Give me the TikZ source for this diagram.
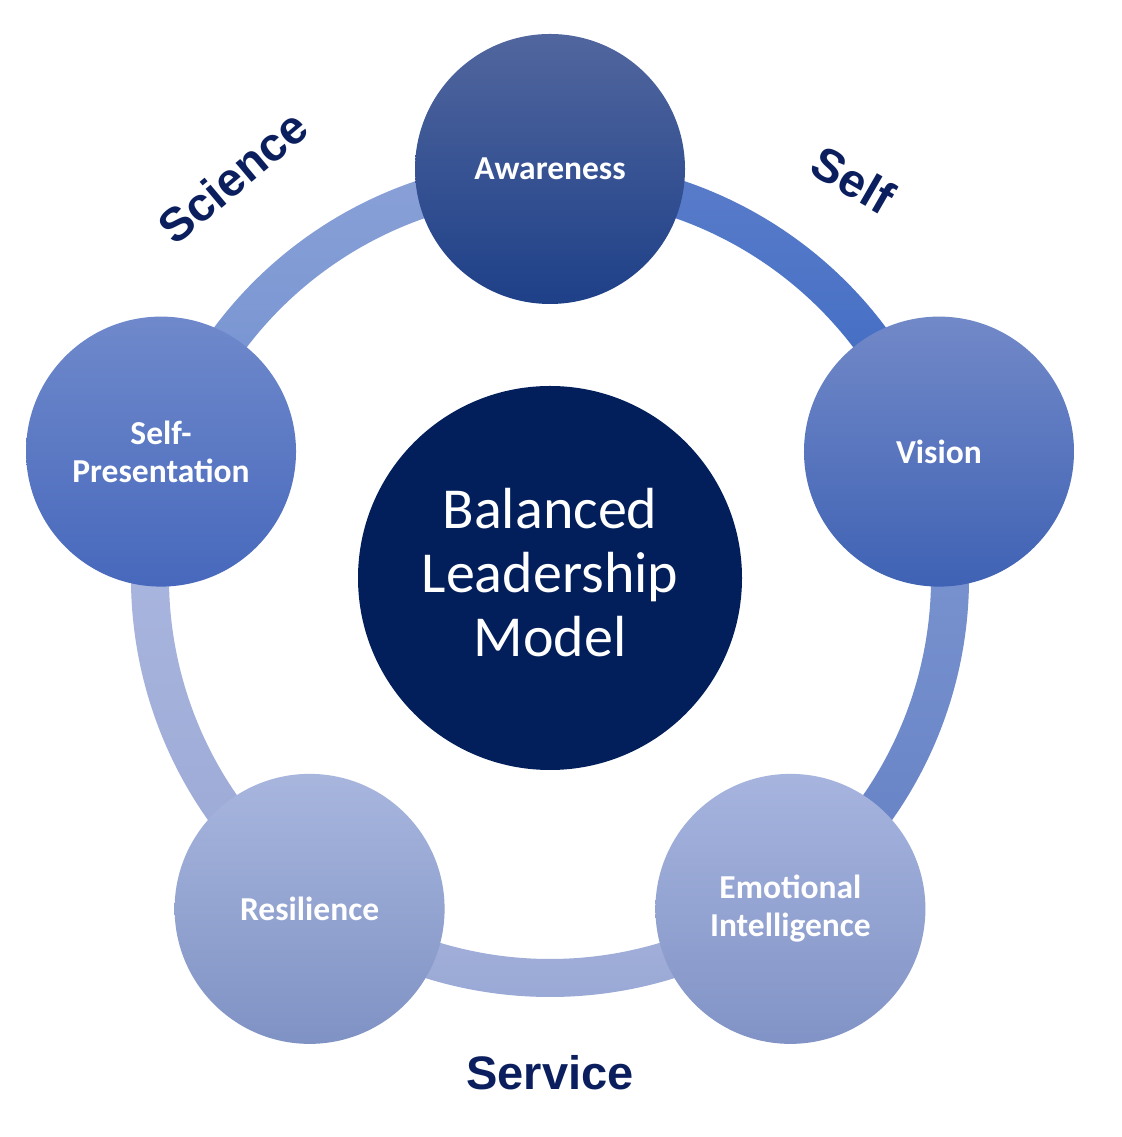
\documentclass[tikz,border=0pt]{standalone}
\usepackage{fontspec}
\setmainfont{Carlito}
\newfontfamily\labfont{Liberation Sans}
\usetikzlibrary{calc}
\definecolor{navy}{HTML}{021F5B}
\definecolor{labcol}{HTML}{0B1F5E}
\newcommand\ringseg[4]{\shade[top color=#3,bottom color=#4] ($(C)+(#1:419pt)$) arc[start angle=#1,end angle=#2,radius=419pt] -- ($(C)+(#2:381pt)$) arc[start angle=#2,end angle=#1,radius=381pt] -- cycle;}
\tikzset{
  circ/.style={circle, minimum size=270pt, inner sep=0pt, text=white, align=center,
    font=\bfseries\fontsize{33.5}{38}\selectfont},
  side/.style={text=labcol, font=\labfont\bfseries\fontsize{47}{50}\selectfont, inner sep=0pt}
}
\definecolor{s1t}{HTML}{5B7DCA}\definecolor{s1b}{HTML}{3A68C2}
\definecolor{s2t}{HTML}{8AA1D7}\definecolor{s2b}{HTML}{7190D0}
\definecolor{s3t}{HTML}{ADB9E0}\definecolor{s3b}{HTML}{9AA8D5}
\definecolor{s4t}{HTML}{A6B3DB}\definecolor{s4b}{HTML}{97A6D4}
\definecolor{s5t}{HTML}{7F98D2}\definecolor{s5b}{HTML}{6480C4}
\definecolor{awt}{HTML}{51669E}\definecolor{awb}{HTML}{1E4088}
\definecolor{vit}{HTML}{7289C8}\definecolor{vib}{HTML}{3F62B4}
\definecolor{spt}{HTML}{6F89CB}\definecolor{spb}{HTML}{4768BC}
\definecolor{ret}{HTML}{A8B6DE}\definecolor{reb}{HTML}{7F92C4}
\definecolor{emt}{HTML}{A6B4DE}\definecolor{emb}{HTML}{8193C6}
\begin{document}
\begin{tikzpicture}[x=1pt,y=1pt]
\useasboundingbox (0,0) rectangle (1121,1137);
\fill[white] (0,0) rectangle (1121,1137);
\coordinate (C) at (550,559);
% ring segments
\ringseg{18}{90}{s1t}{s1b}
\ringseg{90}{162}{s2t}{s2b}
\ringseg{162}{234}{s3t}{s3b}
\ringseg{234}{306}{s4t}{s4b}
\ringseg{-54}{18}{s5t}{s5b}
% circles
\node[circ, top color=awt, bottom color=awb] (aw) at ($(C)+(90:409pt)$) {Awareness};
\node[circ, top color=vit, bottom color=vib] (vi) at ($(C)+(18:409pt)$) {Vision};
\node[circ, top color=spt, bottom color=spb] (sp) at ($(C)+(162:409pt)$) {Self-\\Presentation};
\node[circ, top color=ret, bottom color=reb] (re) at ($(C)+(234:409pt)$) {Resilience};
\node[circ, top color=emt, bottom color=emb] (em) at ($(C)+(306:409pt)$) {Emotional\\Intelligence};
% centre
\node[circle, fill=navy, minimum size=384pt, inner sep=0pt] (ctr) at (C) {};
\node[text=white, align=center, inner sep=0pt, font=\fontsize{58}{64}\selectfont]
  (ctrtext) at ($(ctr.center)+(0,5)$) {Balanced\\Leadership\\Model};
% side labels
\node[side, rotate=40] (sci) at (233,960) {Science};
\node[side, rotate=-30] (slf) at (853,957) {Self};
\node[side] (srv) at (550,64) {Service};
\end{tikzpicture}
\end{document}
